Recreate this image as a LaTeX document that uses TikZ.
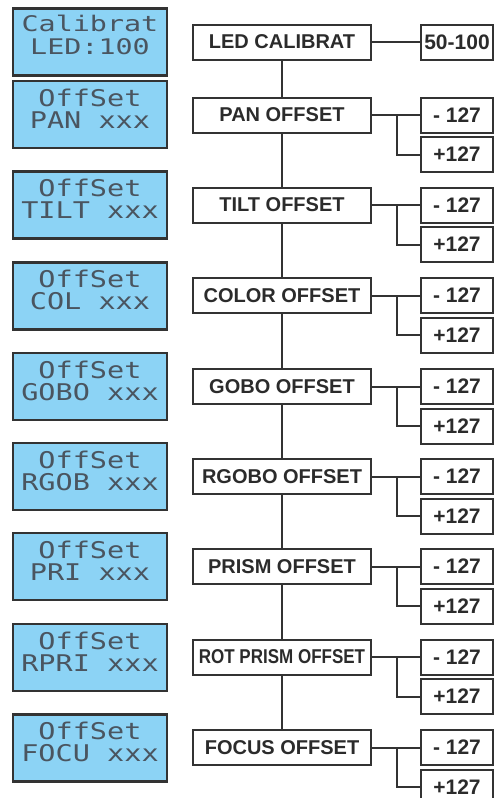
\documentclass[tikz,border=0pt]{standalone}
\usepackage{fontspec}
\usepackage{graphicx}
\setmainfont{Liberation Sans}
\newfontfamily\lcdfont{DejaVu Sans Mono}
\definecolor{lcdblue}{HTML}{8CD3F5}
\definecolor{lcdink}{HTML}{4A5560}
\definecolor{linegray}{HTML}{333333}
\definecolor{textgray}{HTML}{2B2B2B}
\tikzset{
  lcdbox/.style={draw=linegray, line width=2.4pt, fill=lcdblue, minimum width=154pt, minimum height=67pt, inner sep=0pt},
  lcdtext/.style={anchor=base, text=lcdink, font=\lcdfont\fontsize{23}{23}\selectfont, inner sep=0pt},
  lcdsmall/.style={lcdtext, font=\lcdfont\fontsize{21.5}{21.5}\selectfont},
  mainbox/.style={draw=linegray, line width=2pt, fill=white, minimum width=178pt, minimum height=35pt, inner sep=0pt, text=textgray, font=\bfseries\fontsize{20}{20}\selectfont},
  valbox/.style={draw=linegray, line width=2pt, fill=white, minimum width=72pt, minimum height=35pt, inner sep=0pt, text=textgray, font=\bfseries\fontsize{21}{21}\selectfont},
  conn/.style={draw=linegray, line width=2pt},
}
\newcommand{\lcdw}[1]{\scalebox{1.24}[1]{#1}}
\newcommand{\lcdww}[1]{\scalebox{1.32}[1]{#1}}
\begin{document}
\begin{tikzpicture}[x=1pt, y=-1pt]
\useasboundingbox (0,0) rectangle (502,798);
% LCD panels
\node[lcdbox] (l1) at (90,42) {};
\node[lcdsmall] (l1a) at (90,31.5) {\lcdww{Calibrat}};
\node[lcdsmall] (l1b) at (90,54) {\lcdww{LED:100}};
\foreach \i/\c/\t in {2/114.5/PAN xxx, 3/205/TILT xxx, 4/296/COL xxx, 5/386.5/GOBO xxx, 6/476.5/RGOB xxx, 7/566.5/PRI xxx, 8/657.5/RPRI xxx, 9/748/FOCU xxx}{
  \node[lcdbox] (l\i) at (90,\c) {};
  \node[lcdtext] (l\i a) at (90,\c-8.5) {\lcdw{OffSet}};
  \node[lcdtext] (l\i b) at (90,\c+13.5) {\lcdw{\t}};
}
% main column
\node[mainbox] (m1) at (282,42) {LED CALIBRAT};
\node[mainbox] (m2) at (282,115) {PAN OFFSET};
\node[mainbox] (m3) at (282,205) {TILT OFFSET};
\node[mainbox] (m4) at (282,295.5) {COLOR OFFSET};
\node[mainbox] (m5) at (282,386.5) {GOBO OFFSET};
\node[mainbox] (m6) at (282,476.5) {RGOBO OFFSET};
\node[mainbox] (m7) at (282,566.5) {PRISM OFFSET};
\node[mainbox] (m8) at (282,657) {\scalebox{0.85}[1]{ROT PRISM OFFSET}};
\node[mainbox] (m9) at (282,747.5) {FOCUS OFFSET};
\foreach \a/\b in {1/2,2/3,3/4,4/5,5/6,6/7,7/8,8/9}{
  \draw[conn] (m\a.south) -- (m\b.north);
}
% values
\node[valbox] (v1) at (457,42) {50-100};
\draw[conn] (m1.east) -- (v1.west);
\foreach \i/\c in {2/115,3/205,4/295.5,5/386.5,6/476.5,7/566.5,8/657,9/747.5}{
  \node[valbox] (n\i) at (457,\c) {- 127};
  \node[valbox] (p\i) at (457,\c+39.5) {+127};
  \coordinate (j\i) at (397,\c);
  \draw[conn] (m\i.east) -- (n\i.west);
  \draw[conn] (j\i) |- (p\i.west);
}
\end{tikzpicture}
\end{document}
